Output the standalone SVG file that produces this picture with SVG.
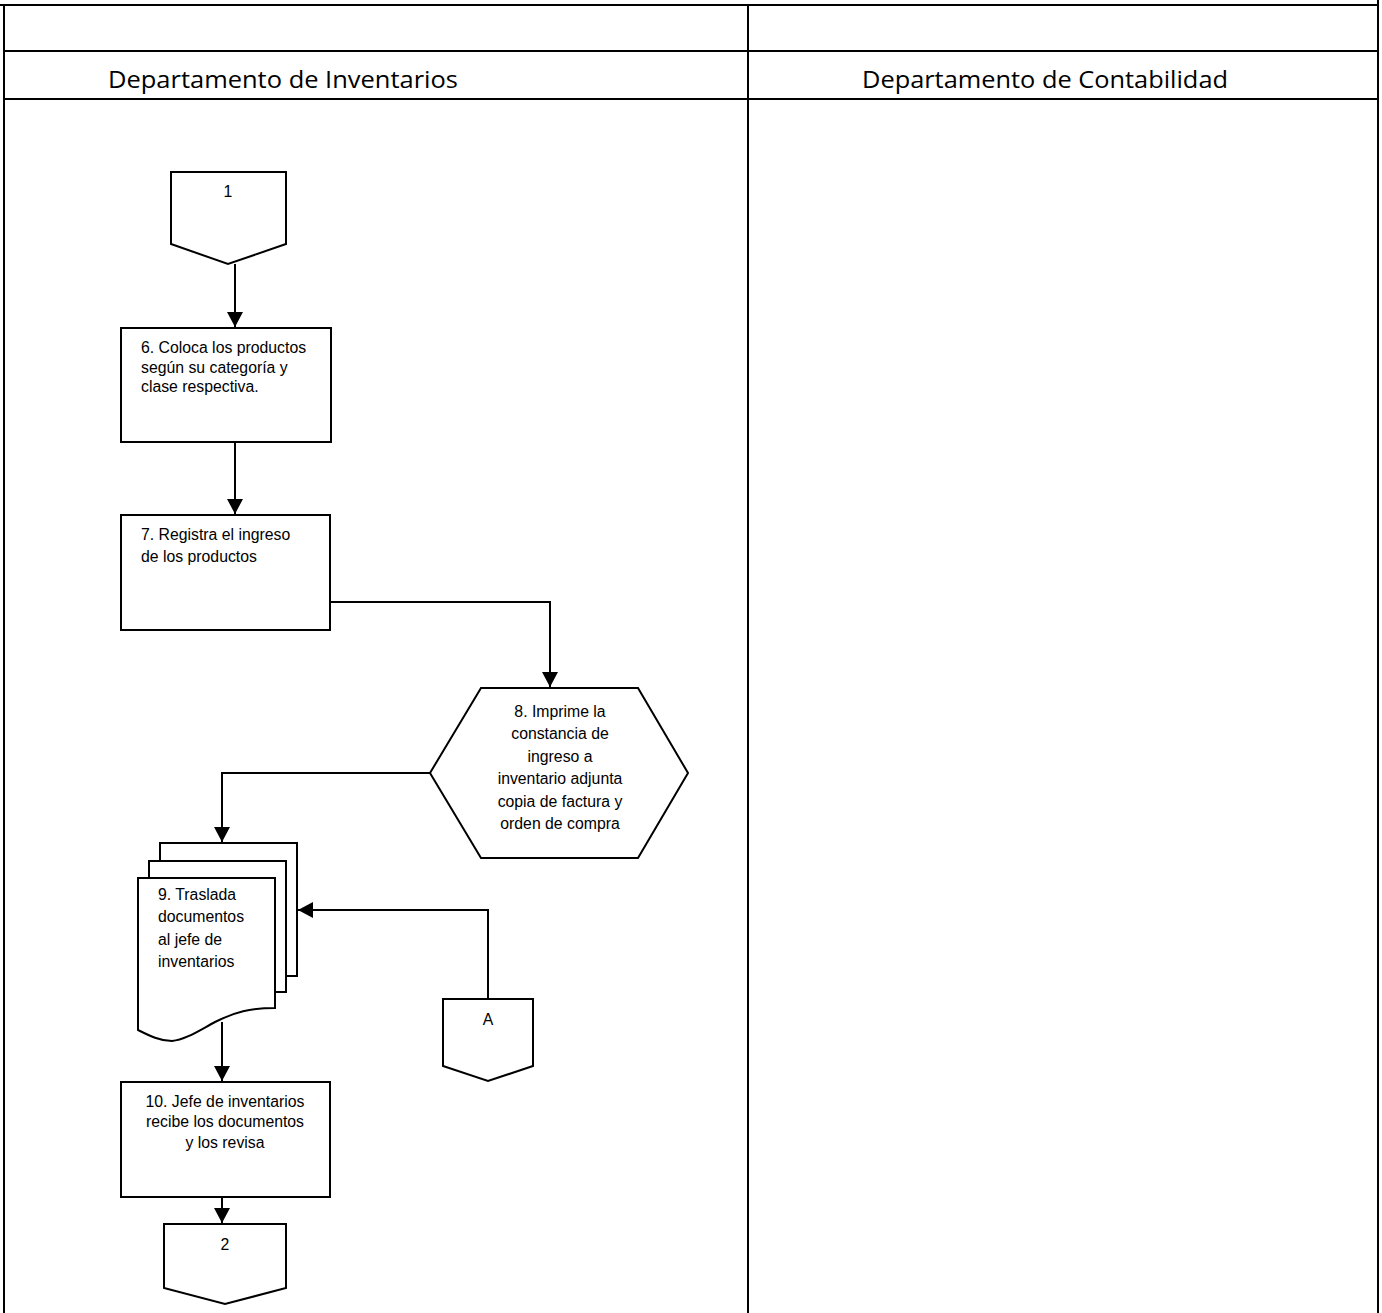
<svg xmlns="http://www.w3.org/2000/svg" width="1382" height="1313" viewBox="0 0 1382 1313">
<defs>
<style>
.grid{stroke:#000;stroke-width:2;fill:none}
.shape{fill:#fff;stroke:#000;stroke-width:2}
.conn{stroke:#000;stroke-width:2;fill:none}
.hdr{font-family:"Open Sans","Liberation Sans",sans-serif;font-size:23px;fill:#000}
.t{font-family:"Liberation Sans",Arial,sans-serif;font-size:15.8px;fill:#000}
.c{text-anchor:middle}
</style>
<marker id="arr" markerUnits="userSpaceOnUse" markerWidth="16" markerHeight="16" viewBox="0 0 16 16" refX="15" refY="8" orient="auto">
<path d="M0,0 L15,8 L0,16 Z" fill="#000"/>
</marker>
</defs>
<rect width="1382" height="1313" fill="#fff"/>
<g id="table">
<line class="grid" x1="0" y1="5" x2="1378" y2="5"/>
<line class="grid" x1="1378" y1="0" x2="1378" y2="1313"/>
<line class="grid" x1="4" y1="5" x2="4" y2="1313"/>
<line class="grid" x1="748" y1="5" x2="748" y2="1313"/>
<line class="grid" x1="4" y1="51" x2="1378" y2="51"/>
<line class="grid" x1="4" y1="99" x2="1378" y2="99"/>
<text class="hdr" x="108" y="88" textLength="350" lengthAdjust="spacingAndGlyphs">Departamento de Inventarios</text>
<text class="hdr" x="862" y="88" textLength="366" lengthAdjust="spacingAndGlyphs">Departamento de Contabilidad</text>
</g>
<g id="connectors">
<line class="conn" x1="235" y1="264" x2="235" y2="327" marker-end="url(#arr)"/>
<line class="conn" x1="235" y1="443" x2="235" y2="514" marker-end="url(#arr)"/>
<polyline class="conn" points="330,602 550,602 550,687" marker-end="url(#arr)"/>
<polyline class="conn" points="430,773 222,773 222,842" marker-end="url(#arr)"/>
<polyline class="conn" points="488,999 488,910 298,910" marker-end="url(#arr)"/>
<line class="conn" x1="222" y1="1022" x2="222" y2="1081" marker-end="url(#arr)"/>
<line class="conn" x1="222" y1="1197" x2="222" y2="1223" marker-end="url(#arr)"/>
</g>
<g id="node-c1">
<polygon class="shape" points="171,172 286,172 286,244 228,264 171,244"/>
<text class="t c" x="228" y="197">1</text>
</g>
<g id="node-6">
<rect class="shape" x="121" y="328" width="210" height="114"/>
<text class="t" x="141" y="353">6. Coloca los productos</text>
<text class="t" x="141" y="373">según su categoría y</text>
<text class="t" x="141" y="392">clase respectiva.</text>
</g>
<g id="node-7">
<rect class="shape" x="121" y="515" width="209" height="115"/>
<text class="t" x="141" y="540">7. Registra el ingreso</text>
<text class="t" x="141" y="562">de los productos</text>
</g>
<g id="node-8">
<polygon class="shape" points="481,688 638,688 688,773 638,858 481,858 430,773"/>
<text class="t c" x="560" y="717">8. Imprime la</text>
<text class="t c" x="560" y="739">constancia de</text>
<text class="t c" x="560" y="762">ingreso a</text>
<text class="t c" x="560" y="784">inventario adjunta</text>
<text class="t c" x="560" y="807">copia de factura y</text>
<text class="t c" x="560" y="829">orden de compra</text>
</g>
<g id="node-9">
<rect class="shape" x="160" y="843" width="137" height="133"/>
<rect class="shape" x="149" y="861" width="137" height="131"/>
<path class="shape" d="M138,878 L275,878 L275,1008 C250,1008 235,1012 215,1022 C200,1030 185,1040 172,1041 C160,1041 150,1036 138,1030 Z"/>
<text class="t" x="158" y="900">9. Traslada</text>
<text class="t" x="158" y="922">documentos</text>
<text class="t" x="158" y="945">al jefe de</text>
<text class="t" x="158" y="967">inventarios</text>
</g>
<g id="node-cA">
<polygon class="shape" points="443,999 533,999 533,1066 488,1081 443,1066"/>
<text class="t c" x="488" y="1025">A</text>
</g>
<g id="node-10">
<rect class="shape" x="121" y="1082" width="209" height="115"/>
<text class="t c" x="225" y="1107">10. Jefe de inventarios</text>
<text class="t c" x="225" y="1127">recibe los documentos</text>
<text class="t c" x="225" y="1148">y los revisa</text>
</g>
<g id="node-c2">
<polygon class="shape" points="164,1224 286,1224 286,1288 225,1304 164,1288"/>
<text class="t c" x="225" y="1250">2</text>
</g>
</svg>
